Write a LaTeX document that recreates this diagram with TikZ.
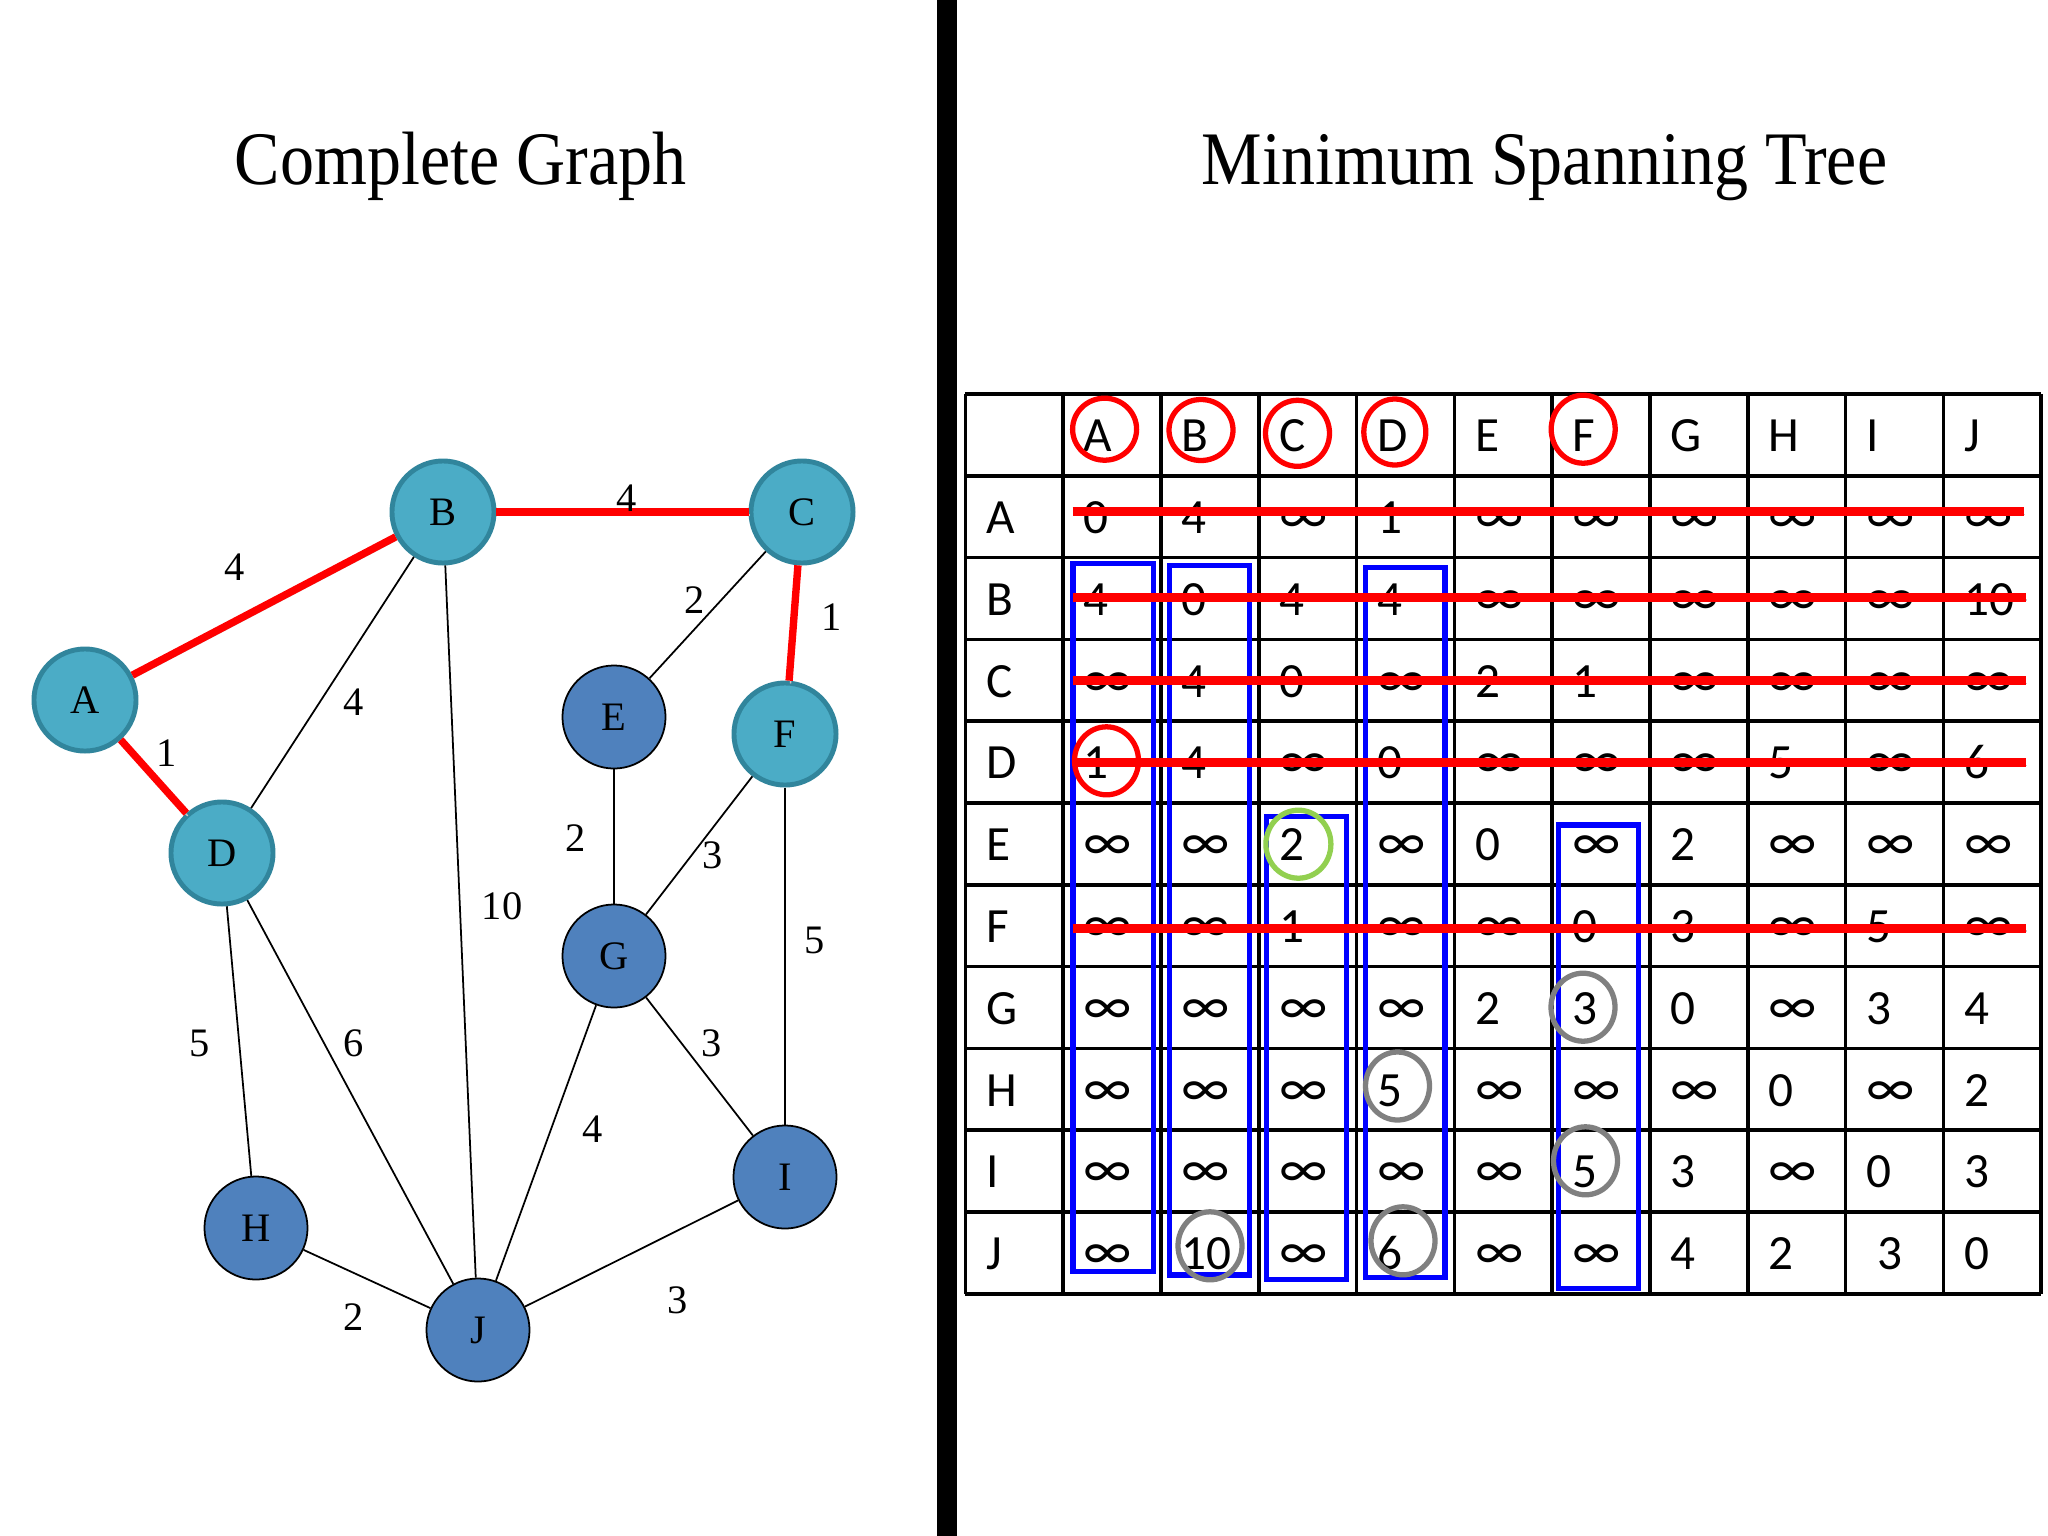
\documentclass[tikz,border=0pt]{standalone}
\usepackage{fontspec}
\usepackage{graphicx}
\usepackage{newunicodechar}
\setmainfont{Liberation Serif}
\newfontfamily\tabfont{Carlito}
\newunicodechar{∞}{\scalebox{1.15}{\symbol{"221E}}}
\usetikzlibrary{positioning}

\definecolor{aqua}{RGB}{75,172,198}
\definecolor{aquaedge}{RGB}{49,133,156}
\definecolor{steel}{RGB}{79,129,189}
\definecolor{okgreen}{RGB}{146,208,80}
\definecolor{ringgray}{RGB}{128,128,128}

\tikzset{
  visited/.style={circle, draw=aquaedge, line width=1.4pt, fill=aqua, minimum size=1.02cm, inner sep=0pt, font=\fontsize{11.5}{12}\selectfont},
  pending/.style={circle, draw=black, line width=0.5pt, fill=steel, minimum size=1.03cm, inner sep=0pt, font=\fontsize{11.5}{12}\selectfont},
  link/.style={line width=0.5pt},
  shadowed/.style={preaction={draw=black!22, transform canvas={shift={(0.4pt,-0.8pt)}}}},
  treelink/.style={red, line width=2.1pt, shadowed},
  weight/.style={inner sep=0pt, font=\fontsize{11.5}{12}\selectfont},
  heading/.style={anchor=base, inner sep=0pt, font=\fontsize{21.5}{24}\selectfont},
  cell/.style={anchor=base west, inner sep=0pt, font=\tabfont\fontsize{14}{16}\selectfont},
  strike/.style={red, line width=2.4pt, shadowed},
  colbox/.style={draw=blue, line width=1.5pt},
  redring/.style={draw=red, line width=1.5pt},
  greyring/.style={draw=ringgray, line width=1.5pt},
  greenring/.style={draw=okgreen, line width=1.5pt}
}

\begin{document}
\begin{tikzpicture}[x=0.01cm, y=-0.01cm]
\useasboundingbox (0,0) rectangle (2048,1536);

% Titles
\node[heading] (gtitle) at (460.7,184.6) {\scalebox{0.9}[1]{Complete Graph}};
\node[heading] (ttitle) at (1544.5,184.6) {\scalebox{0.9}[1]{Minimum Spanning Tree}};

% Divider
\fill (937.3,0) rectangle (956.7,1536);

% Graph vertices
\node[visited] (A) at (85,700) {A};
\node[visited] (B) at (443,512) {B};
\node[visited] (C) at (802,512) {C};
\node[visited] (D) at (222,853) {D};
\node[pending] (E) at (614,717) {E};
\node[visited] (F) at (785,734) {F};
\node[pending] (G) at (614,956) {G};
\node[pending] (H) at (256,1228) {H};
\node[pending] (I) at (785,1177) {I};
\node[pending] (J) at (478,1330) {J};

% Tree edges
\draw[treelink] (A) -- (B);
\draw[treelink] (A) -- (D);
\draw[treelink] (B) -- (C);
\draw[treelink] (C) -- (F);

% Other edges
\draw[link] (B) -- (D);
\draw[link] (B) -- (J);
\draw[link] (C) -- (E);
\draw[link] (E) -- (G);
\draw[link] (F) -- (G);
\draw[link] (F) -- (I);
\draw[link] (G) -- (I);
\draw[link] (G) -- (J);
\draw[link] (D) -- (H);
\draw[link] (D) -- (J);
\draw[link] (H) -- (J);
\draw[link] (I) -- (J);

% Weights
\node[weight] (wAB) at (235,567) {4};
\node[weight] (wAD) at (167,753) {1};
\node[weight] (wBC) at (627,498) {4};
\node[weight] (wCF) at (832,617) {1};
\node[weight] (wBD) at (354,702) {4};
\node[weight] (wBJ) at (502,906) {10};
\node[weight] (wCE) at (695,600) {2};
\node[weight] (wEG) at (576,838) {2};
\node[weight] (wFG) at (713,855) {3};
\node[weight] (wFI) at (815,940) {5};
\node[weight] (wDH) at (200,1043) {5};
\node[weight] (wDJ) at (354,1043) {6};
\node[weight] (wGI) at (712,1043) {3};
\node[weight] (wGJ) at (593,1129) {4};
\node[weight] (wHJ) at (354,1317) {2};
\node[weight] (wIJ) at (678,1300) {3};

% Table grid
\foreach \k in {0,...,11}
  \draw[line width=1pt] (965.4+\k*97.8,394) -- (965.4+\k*97.8,1293.8);
\foreach \k in {0,...,11}
  \draw[line width=1pt] (965.4,394+\k*81.8) -- (2041.2,394+\k*81.8);

% Header row
\foreach \h [count=\j] in {A,B,C,D,E,F,G,H,I,J}
  \node[cell] (top-\j) at (965.4+\j*97.8+20,394+57.6) {\h};

% Distance rows
\foreach \r/\vals [count=\i] in {
  A/{0,4,∞,1,∞,∞,∞,∞,∞,∞},
  B/{4,0,4,4,∞,∞,∞,∞,∞,10},
  C/{∞,4,0,∞,2,1,∞,∞,∞,∞},
  D/{1,4,∞,0,∞,∞,∞,5,∞,6},
  E/{∞,∞,2,∞,0,∞,2,∞,∞,∞},
  F/{∞,∞,1,∞,∞,0,3,∞,5,∞},
  G/{∞,∞,∞,∞,2,3,0,∞,3,4},
  H/{∞,∞,∞,5,∞,∞,∞,0,∞,2},
  I/{∞,∞,∞,∞,∞,5,3,∞,0,3},
  J/{∞,10,∞,6,∞,∞,4,2,{\kern0.11cm 3},0}} {
  \node[cell] (side-\i) at (965.4+20,394+\i*81.8+57.6) {\r};
  \foreach \v [count=\j] in \vals
    \node[cell] (c-\i-\j) at (965.4+\j*97.8+20,394+\i*81.8+57.6) {\v};
}

% Column boxes
\draw[colbox] (1072.9,563.3) rectangle (1153.2,1271.7);
\draw[colbox] (1169.6,565.7) rectangle (1249.3,1275);
\draw[colbox] (1266.8,816.7) rectangle (1346.4,1279.3);
\draw[colbox] (1365.4,567.7) rectangle (1445,1277.3);
\draw[colbox] (1558.3,825) rectangle (1638.3,1288.3);

% Struck rows
\draw[strike] (1072.5,511.7) -- (2023.5,511.7);
\draw[strike] (1072.5,597.3) -- (2026,597.3);
\draw[strike] (1072.5,680.7) -- (2026,680.7);
\draw[strike] (1072.5,762.7) -- (2026,762.7);
\draw[strike] (1072.5,928.3) -- (2026,928.3);

% Rings
\draw[redring] (1104.6,429.2) ellipse [x radius=32, y radius=31];
\draw[redring] (1201,430) ellipse [x radius=32, y radius=30.5];
\draw[redring] (1297.5,433.3) ellipse [x radius=32, y radius=33];
\draw[redring] (1394.8,432) ellipse [x radius=31, y radius=33];
\draw[redring] (1583.2,429.2) ellipse [x radius=32, y radius=34];
\draw[redring] (1106.5,760.8) ellipse [x radius=32, y radius=34];
\draw[greenring] (1298.4,844.2) ellipse [x radius=32.5, y radius=34];
\draw[greyring] (1397.5,1086) ellipse [x radius=32, y radius=34];
\draw[greyring] (1210,1245.8) ellipse [x radius=32, y radius=34];
\draw[greyring] (1403,1240.8) ellipse [x radius=32, y radius=34];
\draw[greyring] (1583,1007.2) ellipse [x radius=32, y radius=34];
\draw[greyring] (1585.5,1160.8) ellipse [x radius=32, y radius=34];
\end{tikzpicture}
\end{document}
